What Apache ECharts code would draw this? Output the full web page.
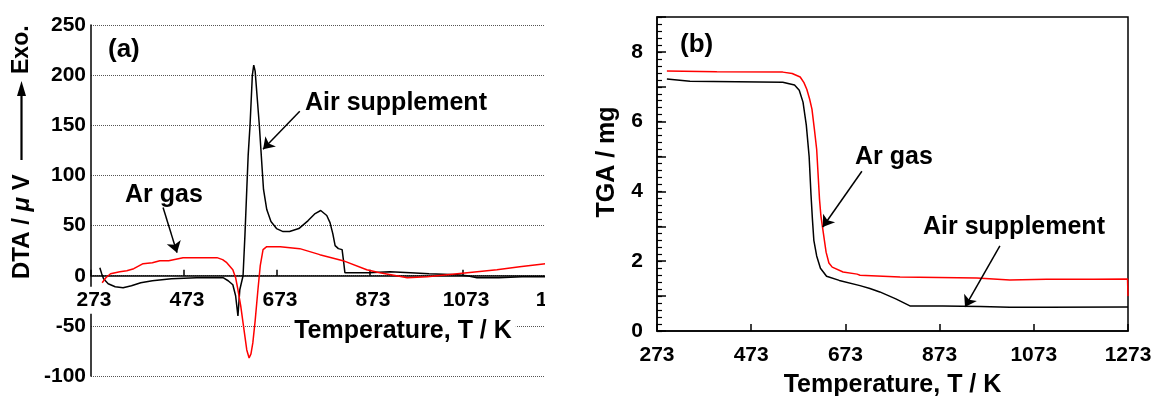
<!DOCTYPE html>
<html>
<head>
<meta charset="utf-8">
<script src="https://cdn.jsdelivr.net/npm/echarts@6.0.0/dist/echarts.min.js"></script>
<style>
  html, body { margin: 0; padding: 0; background: #fff; }
  #page { position: relative; width: 1153px; height: 396px; overflow: hidden; }
  #wrapA { position: absolute; left: 0; top: 0; width: 545px; height: 396px; overflow: hidden; }
  #chartA { width: 620px; height: 396px; }
  #chartB { position: absolute; left: 545px; top: 0; width: 608px; height: 396px; }
</style>
</head>
<body>
<div id="page">
  <div id="wrapA"><div id="chartA"></div></div>
  <div id="chartB"></div>
</div>
<script>
// Temperature axis shared by both panels (K)
const tempTicks = [273, 473, 673, 873, 1073, 1273];
// DTA axis range (µV) and TGA axis range (mg): [min, max, step]
const dtaRange = [-100, 250, 50];
const tgaRange = [0, 9, 1];
const tgaMinorStep = 0.2;

// (a) DTA, air supplement
const dtaAirT = [292, 296, 300, 310, 325, 342, 360, 380, 405, 446, 500, 557, 568, 578, 584, 589, 593, 600,
  604, 608, 611, 615, 620, 623, 626, 630, 635, 642, 644, 651, 660, 672, 686, 700, 720, 740, 755, 767,
  780, 787, 793, 798, 805, 813, 816, 819, 830, 870, 916, 960, 1000, 1060, 1082, 1103, 1150, 1200, 1250];
const dtaAir = [8, 2, -3, -8, -11, -12, -10, -7, -5, -3, -2, -2, -5, -9, -20, -40, -14, 0,
  40, 86, 120, 150, 200, 210, 204, 180, 150, 100, 86, 66, 54, 47, 44, 44, 47, 55, 62, 65,
  60, 53, 42, 30, 27, 26, 15, 3, 3, 3, 4, 3, 2, 1, 0, -2, -2, -1, -1];

// (a) DTA, Ar gas
const dtaArT = [297, 305, 315, 335, 350, 365, 385, 405, 421, 440, 471, 500, 544, 556, 565, 578, 584, 589,
  595, 600, 608, 613, 617, 621, 626, 632, 637, 643, 651, 680, 722, 765, 815, 866, 894, 930, 953, 996,
  1039, 1082, 1146, 1195, 1250];
const dtaAr = [-7, -2, 2, 4, 5, 7, 12, 13, 15, 15, 18, 18, 18, 16, 13, 6, -2, -14,
  -30, -47, -74, -82, -78, -67, -45, -14, 10, 26, 29, 29, 27, 21, 15, 6, 3, 0, -2, -1,
  1, 3, 6, 9, 12];

// (b) TGA, air supplement
const tgaAirT = [294, 343, 540, 565, 575, 583, 590, 596, 600, 603, 606, 612, 620, 633, 660, 704, 725, 746,
  780, 810, 880, 960, 1022, 1100, 1273];
const tgaAir = [7.22, 7.16, 7.13, 7.05, 6.9, 6.56, 5.9, 5.0, 3.9, 3.2, 2.6, 2.15, 1.8, 1.57, 1.45, 1.3, 1.22, 1.12,
  0.92, 0.72, 0.72, 0.7, 0.68, 0.68, 0.69];

// (b) TGA, Ar gas
const tgaArT = [294, 400, 540, 560, 577, 585, 591, 597, 602, 607, 612, 618, 621, 625, 632, 638, 645, 668,
  698, 704, 789, 952, 1022, 1100, 1200, 1272, 1273];
const tgaAr = [7.45, 7.43, 7.42, 7.38, 7.28, 7.12, 6.93, 6.65, 6.36, 5.8, 5.21, 3.78, 3.3, 2.92, 2.26, 1.95, 1.83, 1.69,
  1.63, 1.6, 1.55, 1.52, 1.46, 1.48, 1.48, 1.49, 1.0];

// Callout arrows, in data coordinates [T, value]
const dtaArrows = [
  { from: [722, 164], to: [643, 126] },
  { from: [428, 68], to: [458, 23] }
];
const tgaArrows = [
  { from: [708, 4.58], to: [625, 2.98] },
  { from: [1001, 2.44], to: [927, 0.69] }
];

const FONT = "'Liberation Sans', Arial, Helvetica, sans-serif";
const pairs = (xs, ys) => xs.map((x, i) => [x, ys[i]]);
const tMin = tempTicks[0], tMax = tempTicks[tempTicks.length - 1], tStep = tempTicks[1] - tempTicks[0];
const plain = v => String(v);

function arrowLines(list) {
  return {
    silent: true,
    animation: false,
    symbol: ['none', 'arrow'],
    label: { show: false },
    emphasis: { disabled: true },
    lineStyle: { color: '#000', width: 1.5, type: 'solid' },
    data: list.map(a => [
      { coord: a.from, symbol: 'none' },
      { coord: a.to, symbol: 'arrow', symbolSize: 11 }
    ])
  };
}

function boldText(text, x, y, size, extra) {
  return Object.assign({
    type: 'text',
    x: x, y: y,
    z: 10,
    style: {
      text: text, x: 0, y: 0,
      font: 'bold ' + size + 'px ' + FONT,
      fill: '#000',
      align: 'left',
      verticalAlign: 'middle'
    }
  }, extra || {});
}

// ---------- (a) DTA ----------
const gridA = { left: 91, top: 25, width: 465, height: 351 };
// temperature axis drawn through DTA = 0
const zeroLift = -(0 - dtaRange[0]) / (dtaRange[1] - dtaRange[0]) * gridA.height;

const chartA = echarts.init(document.getElementById('chartA'), null, { renderer: 'canvas' });
chartA.setOption({
  animation: false,
  backgroundColor: '#fff',
  grid: Object.assign({ outerBoundsMode: 'none', containLabel: false }, gridA),
  xAxis: {
    type: 'value', min: tMin, max: tMax, interval: tStep, z: 3,
    position: 'bottom', offset: zeroLift,
    axisLine: { onZero: false, lineStyle: { color: '#000', width: 1.5 } },
    axisTick: { inside: true, length: 6, lineStyle: { color: '#000', width: 1.5 } },
    axisLabel: {
      margin: 11, fontSize: 21, fontWeight: 'bold', color: '#000', fontFamily: FONT,
      backgroundColor: '#fff', padding: [3, 2, 3, 8], formatter: plain
    },
    splitLine: { show: false }
  },
  yAxis: {
    type: 'value', min: dtaRange[0], max: dtaRange[1], interval: dtaRange[2], z: 1,
    axisLine: { show: true, onZero: false, lineStyle: { color: '#000', width: 1.5 } },
    axisTick: { show: false },
    axisLabel: { margin: 5, fontSize: 21, fontWeight: 'bold', color: '#000', fontFamily: FONT, formatter: plain },
    splitLine: { show: true, lineStyle: { color: '#555', type: 'dotted', width: 1 } }
  },
  series: [
    {
      name: 'Air supplement', type: 'line', data: pairs(dtaAirT, dtaAir),
      showSymbol: false, lineStyle: { color: '#000', width: 1.5 }, itemStyle: { color: '#000' },
      markLine: arrowLines(dtaArrows)
    },
    {
      name: 'Ar gas', type: 'line', data: pairs(dtaArT, dtaAr),
      showSymbol: false, lineStyle: { color: '#ff0000', width: 1.5 }, itemStyle: { color: '#ff0000' }
    }
  ],
  graphic: [
    boldText('(a)', 108, 50, 26),
    boldText('Air supplement', 305, 103, 25),
    boldText('Ar gas', 125, 195, 25),
    {
      type: 'text', x: 403, y: 331, z: 10,
      style: {
        text: 'Temperature, T / K', x: 0, y: 0,
        font: 'bold 25px ' + FONT, fill: '#000',
        align: 'center', verticalAlign: 'middle',
        backgroundColor: '#fff', padding: [2, 4]
      }
    },
    // rotated axis title with "exothermic" direction arrow
    {
      type: 'text', x: 22, y: 279, rotation: Math.PI / 2, z: 10,
      style: {
        text: '{a|DTA / }{m|μ}{a| V}', x: 0, y: 0,
        align: 'left', verticalAlign: 'middle',
        rich: {
          a: { font: 'bold 24px ' + FONT, fill: '#000' },
          m: { font: 'italic bold 24px ' + FONT, fill: '#000' }
        }
      }
    },
    {
      type: 'line', z: 10,
      shape: { x1: 21.5, y1: 160, x2: 21.5, y2: 92 },
      style: { stroke: '#000', lineWidth: 2.2 }
    },
    {
      type: 'polygon', z: 10,
      shape: { points: [[21.5, 81], [17, 96], [26, 96]] },
      style: { fill: '#000' }
    },
    {
      type: 'text', x: 22, y: 74, rotation: Math.PI / 2, z: 10,
      style: {
        text: 'Exo.', x: 0, y: 0,
        font: 'bold 23px ' + FONT, fill: '#000',
        align: 'left', verticalAlign: 'middle'
      }
    }
  ]
});

// ---------- (b) TGA ----------
const tgaAxisBase = {
  type: 'value', min: tgaRange[0], max: tgaRange[1], position: 'left',
  splitLine: { show: false }
};

const chartB = echarts.init(document.getElementById('chartB'), null, { renderer: 'canvas' });
chartB.setOption({
  animation: false,
  backgroundColor: '#fff',
  grid: {
    left: 112, top: 17, width: 471, height: 314,
    outerBoundsMode: 'none', containLabel: false,
    show: true, borderColor: '#000', borderWidth: 1.5, backgroundColor: 'transparent'
  },
  xAxis: {
    type: 'value', min: tMin, max: tMax, interval: tStep,
    name: 'Temperature, T / K', nameLocation: 'middle', nameGap: 42,
    nameTextStyle: { fontSize: 25, fontWeight: 'bold', color: '#000', fontFamily: FONT },
    axisLine: { onZero: false, lineStyle: { color: '#000', width: 1.5 } },
    axisTick: { inside: true, length: 7, lineStyle: { color: '#000', width: 1.5 } },
    axisLabel: { margin: 14, fontSize: 21, fontWeight: 'bold', color: '#000', fontFamily: FONT, formatter: plain },
    splitLine: { show: false }
  },
  yAxis: [
    Object.assign({}, tgaAxisBase, {
      interval: tgaRange[2],
      axisLine: { show: true, onZero: false, lineStyle: { color: '#000', width: 1.5 } },
      axisTick: { inside: true, length: 9, lineStyle: { color: '#000', width: 1.5 } },
      axisLabel: {
        margin: 14, fontSize: 21, fontWeight: 'bold', color: '#000', fontFamily: FONT,
        formatter: v => (v % 2 === 0 ? String(v) : '')
      }
    }),
    // fine graduation ticks along the mass axis
    Object.assign({}, tgaAxisBase, {
      interval: tgaMinorStep,
      axisLine: { show: false, onZero: false },
      axisTick: { show: true, inside: true, length: 5, lineStyle: { color: '#000', width: 1.2 } },
      axisLabel: { show: false }
    })
  ],
  series: [
    {
      name: 'Air supplement', type: 'line', data: pairs(tgaAirT, tgaAir),
      showSymbol: false, lineStyle: { color: '#000', width: 1.5 }, itemStyle: { color: '#000' },
      markLine: arrowLines(tgaArrows)
    },
    {
      name: 'Ar gas', type: 'line', data: pairs(tgaArT, tgaAr),
      showSymbol: false, lineStyle: { color: '#ff0000', width: 1.5 }, itemStyle: { color: '#ff0000' }
    }
  ],
  graphic: [
    boldText('(b)', 135, 45, 26),
    boldText('Ar gas', 310, 157, 25),
    boldText('Air supplement', 378, 227, 25),
    {
      type: 'text', x: 62, y: 162, rotation: Math.PI / 2, z: 10,
      style: {
        text: 'TGA / mg', x: 0, y: 0,
        font: 'bold 25px ' + FONT, fill: '#000',
        align: 'center', verticalAlign: 'middle'
      }
    }
  ]
});
</script>
</body>
</html>
